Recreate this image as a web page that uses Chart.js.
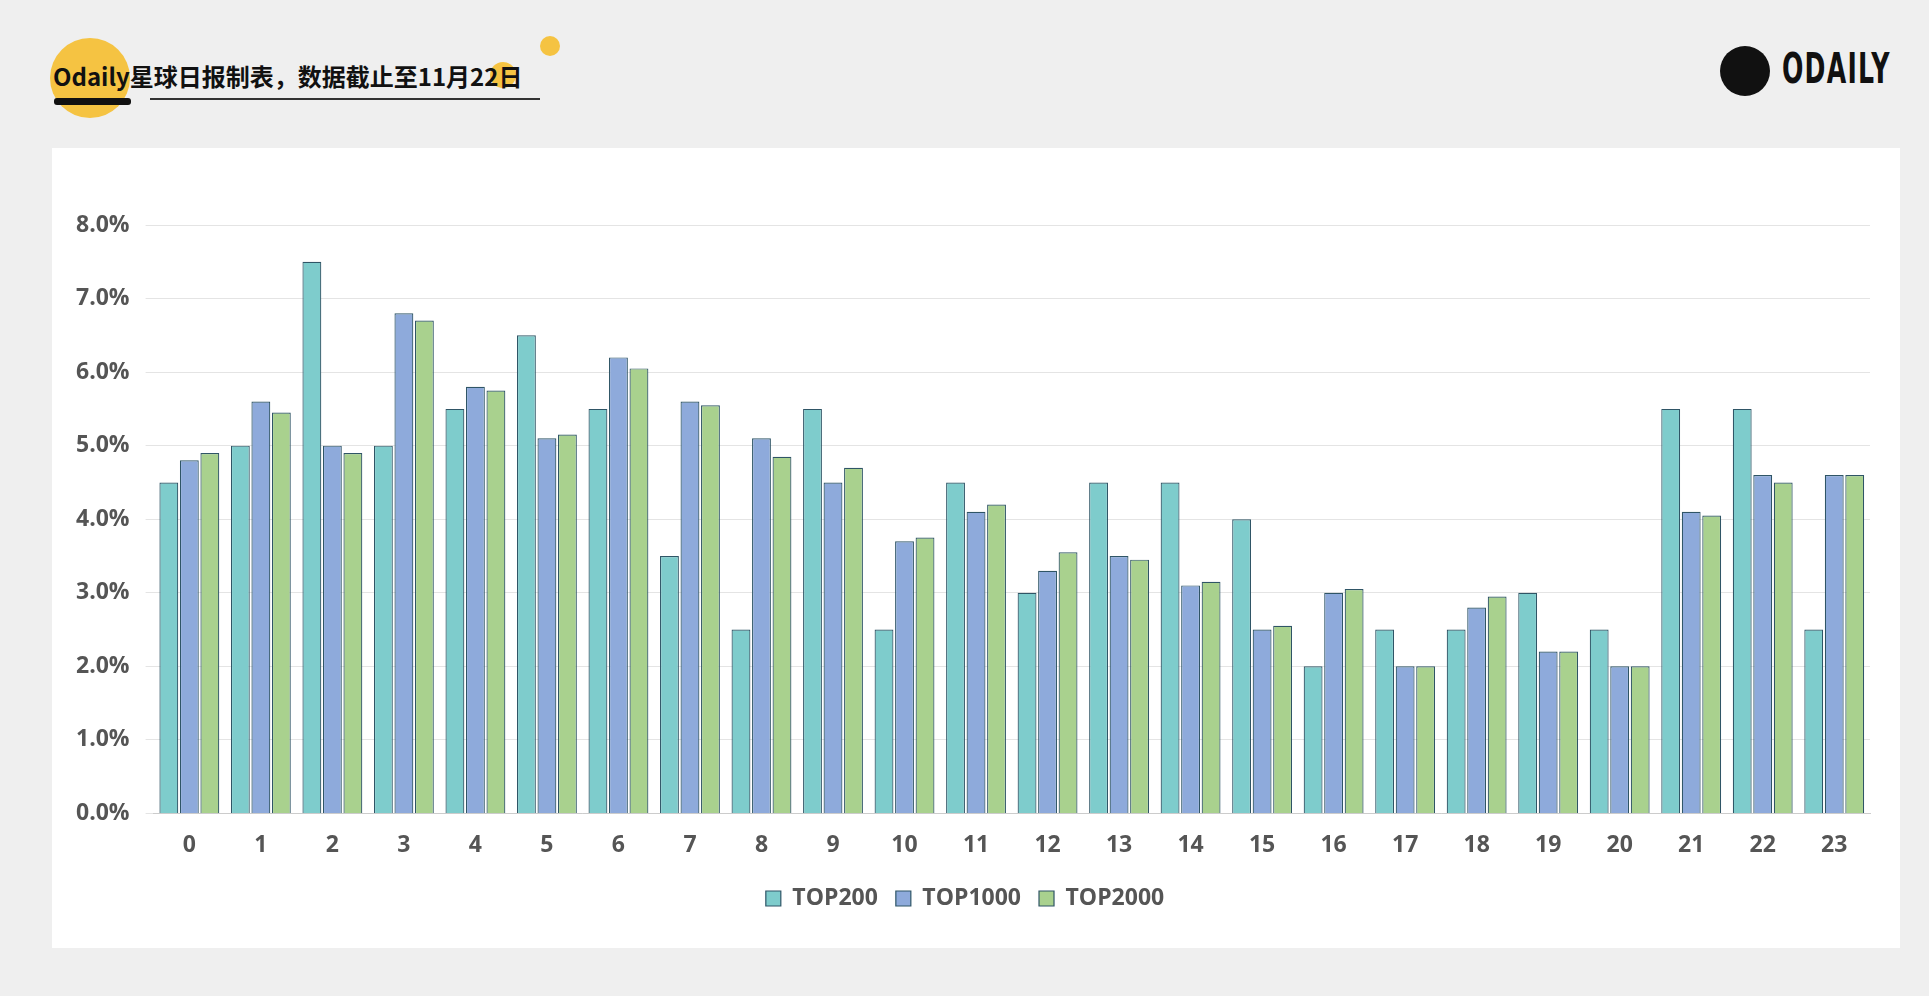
<!DOCTYPE html>
<html><head><meta charset="utf-8">
<script src="https://cdn.jsdelivr.net/npm/chart.js@4"></script>
<style>
body{margin:0;width:1929px;height:996px;background:#efefef;font-family:"Noto Sans CJK SC","Noto Sans",sans-serif;position:relative;overflow:hidden}
#panel{position:absolute;left:52px;top:148px;width:1848px;height:800px;background:#fff}
#cw{position:absolute;left:60px;top:180px;width:1830px;height:740px}
.circ{position:absolute;border-radius:50%;background:#f5c342}
#title{position:absolute;left:53px;top:58px;font-size:24px;font-weight:bold;color:#111;white-space:nowrap}
</style></head><body>
<div class="circ" style="left:50px;top:38px;width:80px;height:80px"></div>
<div class="circ" style="left:540px;top:36px;width:20px;height:20px"></div>
<div class="circ" style="left:490px;top:62px;width:26px;height:26px"></div>
<div id="title">Odaily星球日报制表，数据截止至11月22日</div>
<div style="position:absolute;left:54px;top:98px;width:77px;height:7px;background:#111;border-radius:3px"></div>
<div style="position:absolute;left:150px;top:98px;width:390px;height:2px;background:#333"></div>
<div style="position:absolute;left:1720px;top:46px;width:50px;height:50px;border-radius:50%;background:#111"></div>
<div style="position:absolute;left:1782px;top:44px;font-family:'DejaVu Sans',sans-serif;font-weight:bold;font-size:42px;letter-spacing:2px;color:#111;transform:scaleX(0.6);transform-origin:left top">ODAILY</div>
<div id="panel"></div>
<div id="cw"><canvas id="c"></canvas></div>
<script>
const hours=["0","1","2","3","4","5","6","7","8","9","10","11","12","13","14","15","16","17","18","19","20","21","22","23"];
const top200=[4.5,5,7.5,5,5.5,6.5,5.5,3.5,2.5,5.5,2.5,4.5,3,4.5,4.5,4,2,2.5,2.5,3,2.5,5.5,5.5,2.5];
const top1000=[4.8,5.6,5.0,6.8,5.8,5.1,6.2,5.6,5.1,4.5,3.7,4.1,3.3,3.5,3.1,2.5,3.0,2.0,2.8,2.2,2.0,4.1,4.6,4.6];
const top2000=[4.9,5.45,4.9,6.7,5.75,5.15,6.05,5.55,4.85,4.7,3.75,4.2,3.55,3.45,3.15,2.55,3.05,2.0,2.95,2.2,2.0,4.05,4.5,4.6];
const bc='#2f5566';
function ds(l,d,c){return {label:l,data:d,backgroundColor:c,borderColor:bc,borderWidth:1.2,categoryPercentage:0.86,barPercentage:0.92};}
new Chart(document.getElementById('c'),{type:'bar',
data:{labels:hours,datasets:[ds('TOP200',top200,'#7ecccc'),ds('TOP1000',top1000,'#8eaadb'),ds('TOP2000',top2000,'#a9d18e')]},
options:{responsive:true,maintainAspectRatio:false,animation:false,
layout:{padding:{left:0,right:20,top:45,bottom:0}},
plugins:{legend:{position:'bottom',labels:{boxWidth:15,boxHeight:15,padding:18,font:{size:23,weight:'bold',family:'Open Sans'},color:'#555'}},tooltip:{enabled:false}},
scales:{x:{grid:{display:false},border:{color:'#ccc'},ticks:{font:{size:23,weight:'bold',family:'Open Sans'},color:'#555',padding:10}},
y:{min:0,max:8,ticks:{stepSize:1,callback:v=>v.toFixed(1)+'%',font:{size:23,weight:'bold',family:'Open Sans'},color:'#555',padding:16},grid:{color:'#e4e4e4'},border:{display:false}}}}});
</script></body></html>
